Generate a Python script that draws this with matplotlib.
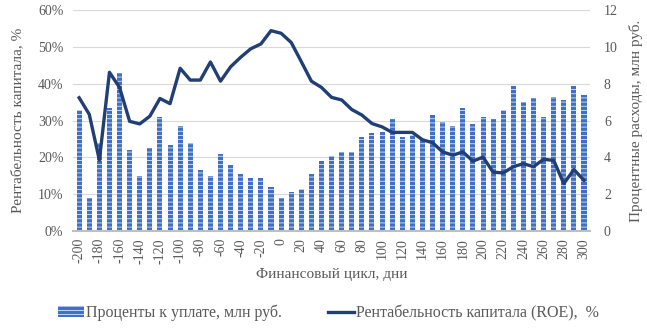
import numpy as np
import matplotlib.pyplot as plt
from matplotlib.ticker import PercentFormatter
from matplotlib.lines import Line2D
from matplotlib.patches import Patch

plt.rcParams['font.family'] = 'Liberation Serif'
plt.rcParams['hatch.linewidth'] = 0.6

# Финансовый цикл, дни
cycle_days = list(range(-200, 301, 10))

# Проценты к уплате, млн руб.
interest = [6.6, 1.8, 4.8, 6.7, 8.6, 4.4, 3.0, 4.5, 6.2, 4.7,
            5.7, 4.8, 3.3, 3.0, 4.2, 3.6, 3.1, 2.9, 2.9, 2.4,
            1.8, 2.1, 2.3, 3.1, 3.8, 4.1, 4.3, 4.3, 5.1, 5.3,
            5.4, 6.1, 5.1, 5.2, 5.0, 6.3, 5.9, 5.7, 6.7, 5.8,
            6.2, 6.1, 6.6, 7.9, 7.0, 7.2, 6.2, 7.3, 7.1, 7.9,
            7.4]

# Рентабельность капитала (ROE), %
roe = [36.2, 31.7, 19.3, 43.1, 39.0, 29.8, 29.1, 31.2, 36.0, 34.6,
       44.2, 41.0, 41.0, 45.9, 40.7, 44.6, 47.2, 49.5, 50.8, 54.4,
       53.7, 51.2, 46.0, 40.7, 39.0, 36.3, 35.6, 33.0, 31.5, 29.2,
       28.3, 26.8, 26.8, 26.8, 24.8, 24.0, 21.5, 20.6, 21.5, 19.0,
       20.1, 16.0, 15.8, 17.5, 18.3, 17.5, 19.5, 19.2, 12.9, 16.7,
       13.8]

bar_color = '#3F6FC6'
line_color = '#213F74'
text_color = '#595959'

x = np.arange(len(cycle_days))

fig = plt.figure(figsize=(6.47, 3.35), dpi=100)
ax = fig.add_axes([0.113, 0.310, 0.799, 0.660])
ax2 = ax.twinx()

# столбцы на правой оси, линия поверх них
ax2.bar(x, interest, width=0.5, color=bar_color, edgecolor='#DCE5F5',
        linewidth=0, hatch='----', zorder=2)
ax.plot(x, roe, color=line_color, linewidth=2.4, zorder=3,
        solid_joinstyle='round')

ax.set_zorder(ax2.get_zorder() + 1)
ax.patch.set_visible(False)

ax.set_xlim(-0.6, len(x) - 0.4)
ax.set_ylim(0, 60)
ax2.set_ylim(0, 12)
ax.set_yticks(np.arange(0, 61, 10))
ax2.set_yticks(np.arange(0, 13, 2))
ax.yaxis.set_major_formatter(PercentFormatter(decimals=0))

ax.set_xticks(x[::2])
ax.set_xticklabels([str(d) for d in cycle_days[::2]], rotation=90)

ax2.grid(axis='y', color='#D9D9D9', linewidth=0.8, zorder=0)
ax2.set_axisbelow(True)

for a in (ax, ax2):
    for s in ('top', 'left', 'right'):
        a.spines[s].set_visible(False)
    a.spines['bottom'].set_color('#BFBFBF')
    a.spines['bottom'].set_linewidth(1.5)
    a.tick_params(length=0, labelsize=10, labelcolor=text_color)
ax2.spines['bottom'].set_visible(False)

ax.tick_params(axis='y', pad=7)
ax2.tick_params(axis='y', pad=10)
ax.tick_params(axis='x', pad=5)

ax.set_ylabel('Рентабельность капитала, %', fontsize=11, color=text_color,
              labelpad=10)
ax2.set_ylabel('Процентные расходы, млн руб.', fontsize=11, color=text_color,
               labelpad=8)
ax.set_xlabel('Финансовый цикл, дни', fontsize=11, color=text_color,
              labelpad=3)

handles = [Patch(facecolor=bar_color, edgecolor='#DCE5F5', linewidth=0,
                 hatch='----'),
           Line2D([0], [0], color=line_color, linewidth=2.4)]
labels = ['Проценты к уплате, млн руб.', 'Рентабельность капитала (ROE),  %']
fig.legend(handles, labels, loc='center', bbox_to_anchor=(0.508, 0.065),
           ncol=2, frameon=False, fontsize=11.5, labelcolor=text_color,
           columnspacing=2.9, handlelength=1.6, handletextpad=0.15)

fig.savefig('out.png', dpi=100)
